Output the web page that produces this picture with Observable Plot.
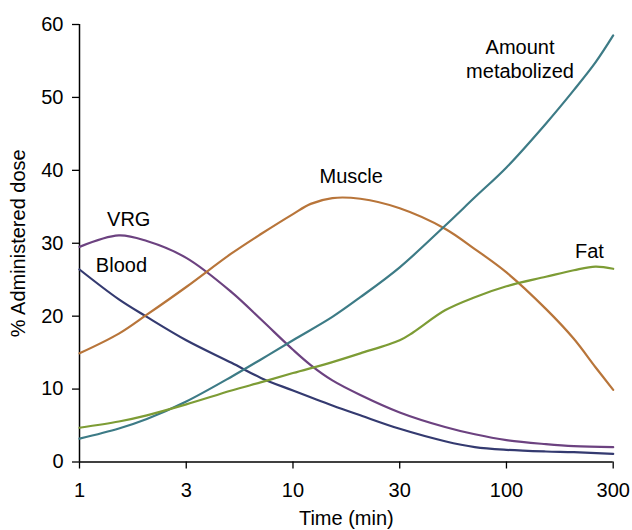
<!DOCTYPE html>
<html>
<head>
<meta charset="utf-8">
<script src="https://cdn.jsdelivr.net/npm/d3@7"></script>
<script src="https://cdn.jsdelivr.net/npm/@observablehq/plot@0.6"></script>
<style>
  html, body { margin: 0; padding: 0; background: #fff; }
  #chart svg { display: block; }
</style>
</head>
<body>
<div id="chart"></div>
<script>
// Time (min) and % administered dose
const bloodT  = [1, 1.5, 2, 3, 5, 7, 10, 15, 20, 30, 50, 70, 100, 150, 200, 300];
const bloodV  = [26.4, 22.3, 19.9, 16.7, 13.6, 11.5, 9.8, 7.75, 6.4, 4.55, 2.85, 2.05, 1.67, 1.44, 1.35, 1.12];

const vrgT    = [1, 1.5, 2, 3, 5, 7, 10, 12, 15, 20, 30, 50, 70, 100, 150, 200, 300];
const vrgV    = [29.5, 31.07, 30.3, 28.0, 23.3, 19.5, 15.4, 13.3, 11.2, 9.2, 6.8, 4.8, 3.8, 3.0, 2.45, 2.17, 2.03];

const muscleT = [1, 1.5, 2, 3, 5, 7, 10, 12, 15, 20, 30, 50, 70, 100, 150, 200, 250, 300];
const muscleV = [14.9, 17.6, 20.2, 24.0, 28.6, 31.3, 34.0, 35.4, 36.2, 36.1, 34.8, 32.0, 29.2, 26.0, 21.0, 16.9, 13.0, 9.9];

const metabT  = [1, 1.5, 2, 3, 5, 7, 10, 15, 20, 30, 50, 70, 100, 150, 200, 250, 300];
const metabV  = [3.2, 4.6, 5.9, 8.3, 11.7, 14.1, 16.7, 19.9, 22.6, 26.7, 32.4, 36.3, 40.4, 46.4, 51.0, 54.8, 58.5];

const fatT    = [1, 1.5, 2, 3, 5, 7, 10, 15, 20, 30, 35, 50, 70, 100, 150, 200, 250, 300];
const fatV    = [4.7, 5.55, 6.4, 7.9, 9.8, 10.95, 12.2, 13.7, 14.9, 16.7, 17.8, 20.8, 22.6, 24.1, 25.4, 26.3, 26.8, 26.5];

const seriesNames  = ["Blood", "VRG", "Muscle", "Amount metabolized", "Fat"];
const seriesTimes  = [bloodT, vrgT, muscleT, metabT, fatT];
const seriesValues = [bloodV, vrgV, muscleV, metabV, fatV];
const seriesColors = ["#343a70", "#6c4280", "#b8753a", "#3d7b86", "#7d9c35"];

const xTicks = [1, 3, 10, 30, 100, 300];
const yTicks = [0, 10, 20, 30, 40, 50, 60];

const labelNames = ["VRG", "Blood", "Muscle", "Fat", "Amount\nmetabolized"];
const labelX = [1.66, 1.54, 18.2, 235, 115];
const labelY = [32.3, 26.0, 38.25, 28.0, 52.7];

const rows = [];
seriesNames.forEach((name, i) => {
  seriesTimes[i].forEach((t, j) => rows.push({series: name, t, v: seriesValues[i][j]}));
});
const labels = labelNames.map((name, i) => ({name, x: labelX[i], y: labelY[i]}));

const chart = Plot.plot({
  width: 632,
  height: 530,
  marginLeft: 79,
  marginRight: 19.3,
  marginTop: 24,
  marginBottom: 68.5,
  style: {fontFamily: "'Liberation Sans', Arial, Helvetica, sans-serif", fontSize: "20px", background: "#fff", color: "#000"},
  x: {type: "log", domain: xTicks},
  y: {domain: [0, 60]},
  color: {domain: seriesNames, range: seriesColors},
  marks: [
    Plot.axisX({ticks: xTicks, tickFormat: d => String(d), tickSize: 7, tickPadding: 14, fontSize: 20,
      label: "Time (min)", labelAnchor: "center", labelOffset: 63, labelArrow: "none", stroke: "#000", strokeWidth: 1.3, strokeOpacity: 1}),
    Plot.axisY({ticks: yTicks, tickSize: 7, tickPadding: 9, fontSize: 20,
      label: "% Administered dose", labelAnchor: "center", labelOffset: 69, labelArrow: "none", stroke: "#000", strokeWidth: 1.3, strokeOpacity: 1}),
    Plot.ruleY([0], {stroke: "#000", strokeWidth: 1.5}),
    Plot.ruleX([1], {stroke: "#000", strokeWidth: 1.5}),
    Plot.line(rows, {x: "t", y: "v", z: "series", stroke: "series", strokeWidth: 2.2, curve: "catmull-rom"}),
    Plot.text(labels, {x: "x", y: "y", text: "name", fontSize: 20, lineAnchor: "bottom", lineHeight: 1.2, fill: "#000"})
  ]
});
document.getElementById("chart").appendChild(chart);
</script>
</body>
</html>
